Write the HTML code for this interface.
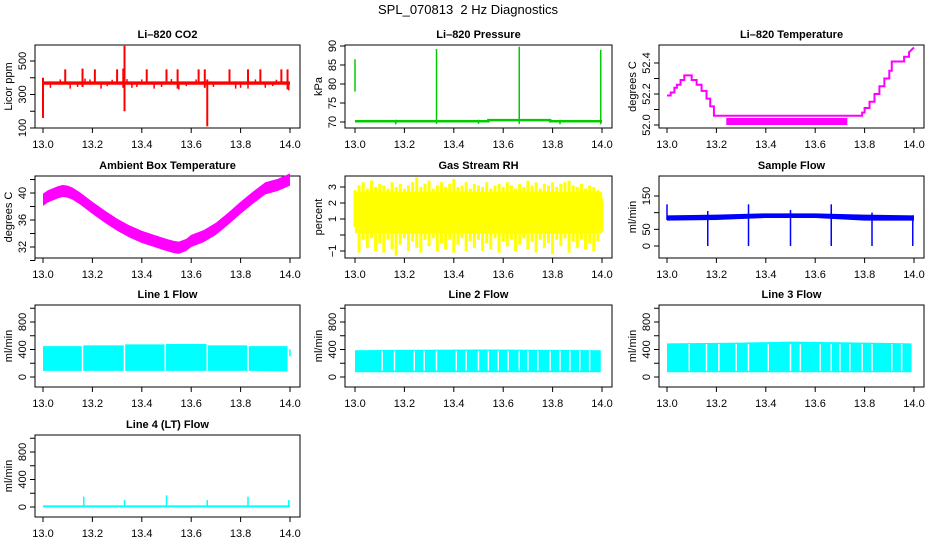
<!DOCTYPE html>
<html><head><meta charset="utf-8"><style>
body{margin:0;background:#fff}
svg{display:block;font-family:"Liberation Sans",sans-serif}
</style></head><body>
<svg id="c" width="936" height="540" viewBox="0 0 936 540">
<text x="468" y="14" text-anchor="middle" font-size="13">SPL_070813&#160; 2 Hz Diagnostics</text>
</svg>
<script>
// ---- data ----
const xTicks = [13.0,13.2,13.4,13.6,13.8,14.0];
const xTickLabels = ["13.0","13.2","13.4","13.6","13.8","14.0"];

const co2BandX = [13.0,14.0];
const co2BandLo = [358,358];
const co2BandHi = [378,378];
const co2SpikeX = [13.0,13.09,13.16,13.21,13.30,13.325,13.33,13.42,13.50,13.545,13.63,13.655,13.665,13.755,13.83,13.88,13.965,13.99];
const co2SpikeLo = [160,365,345,365,365,340,200,365,365,335,365,340,110,365,365,365,365,330];
const co2SpikeHi = [400,450,455,450,450,455,590,450,450,450,450,450,390,450,450,450,450,450];
const co2DipX = [13.03,13.11,13.14,13.235,13.26,13.36,13.38,13.45,13.48,13.55,13.58,13.69,13.78,13.8,13.83,13.9,13.93,13.995];
const co2DipV = [340,335,345,335,350,340,345,335,345,330,350,345,335,340,335,340,350,325];
const co2BumpX = [13.07,13.17,13.19,13.28,13.34,13.4,13.52,13.62,13.86,13.945];
const co2BumpV = [390,395,390,388,392,390,392,390,390,388];

const presBaseX = [13.0,13.54,13.54,13.79,13.79,14.0];
const presBaseV = [70.2,70.2,70.5,70.5,70.2,70.2];
const presSpikeX = [13.0,13.33,13.665,13.995];
const presSpikeLo = [78,69.5,69.5,69.4];
const presSpikeHi = [86.5,89.2,89.8,89.0];
const presDipX = [13.165,13.5,13.83];
const presDipLo = [69.4,69.5,69.4];
const presDipHi = [70.6,70.6,70.6];

const tempX = [13.0,13.015,13.015,13.03,13.03,13.04,13.04,13.055,13.055,13.07,13.07,13.1,13.1,13.12,13.12,13.14,13.14,13.16,13.16,13.175,13.175,13.19,13.19,13.24,13.79,13.79,13.80,13.80,13.82,13.82,13.84,13.84,13.86,13.86,13.88,13.88,13.90,13.90,13.91,13.91,13.96,13.96,13.98,13.98,14.0];
const tempV = [52.19,52.19,52.21,52.21,52.24,52.24,52.26,52.26,52.29,52.29,52.32,52.32,52.29,52.29,52.26,52.26,52.22,52.22,52.17,52.17,52.12,52.12,52.06,52.06,52.06,52.08,52.08,52.11,52.11,52.15,52.15,52.20,52.20,52.25,52.25,52.30,52.30,52.35,52.35,52.41,52.41,52.44,52.44,52.47,52.50];
const tempBandX = [13.24,13.73];
const tempBandLo = [52.0,52.0];
const tempBandHi = [52.045,52.045];

const ambX = [13.0,13.02,13.04,13.06,13.08,13.1,13.12,13.15,13.2,13.25,13.3,13.35,13.4,13.45,13.5,13.53,13.55,13.58,13.6,13.65,13.7,13.75,13.8,13.85,13.9,13.95,14.0];
const ambV = [39.0,39.5,39.8,40.1,40.3,40.2,39.9,39.2,37.8,36.5,35.3,34.3,33.5,32.9,32.3,32.0,31.9,32.3,32.9,33.6,34.7,36.2,37.8,39.3,40.7,41.2,42.0];
const ambHalf = 0.9;

const rhHi = [2.8,3.1,3.3,2.9,3.4,3.0,3.2,3.1,2.9,3.3,3.0,3.2,2.9,3.1,3.3,3.6,3.0,3.2,3.4,2.9,3.1,3.3,3.0,3.2,3.5,3.0,3.1,3.3,2.9,3.2,3.1,3.0,3.3,2.9,3.1,3.2,3.0,3.3,3.1,2.9,3.2,3.0,3.4,3.1,3.3,2.9,3.2,3.1,3.3,3.0,3.2,3.3,3.4,3.1,3.0,3.2,2.9,3.1,3.0,2.8,2.3];
const rhLo = [0.5,-1.1,-0.3,-0.8,-0.2,-1.0,-0.5,-1.1,-0.3,-0.9,-1.3,-0.6,-0.2,-1.0,-0.4,-0.8,-1.1,-0.3,-0.7,-0.2,-1.0,-0.5,-0.9,-0.3,-1.1,-0.6,-0.2,-1.0,-0.4,-0.8,-0.3,-1.0,-0.5,-0.9,-0.2,-1.1,-0.4,-0.7,-0.3,-1.0,-0.6,-0.2,-0.9,-0.4,-1.1,-0.3,-0.8,-0.5,-1.2,-0.3,-0.7,-0.2,-1.1,-0.4,-0.8,-0.3,-0.9,-0.5,-1.0,-0.4,0.2];
const rhCoreLo = 0.1, rhCoreHi = 2.7;

const sfX = [13.0,13.2,13.4,13.6,13.8,14.0];
const sfLo = [76,78,84,84,76,76];
const sfHi = [92,94,98,98,94,92];
const sfSpikeX = [13.0,13.165,13.33,13.5,13.665,13.83,13.995];
const sfSpikeLo = [78,0,0,0,0,0,0];
const sfSpikeHi = [125,105,125,108,125,100,92];

const l1X = [13.0,13.16,13.16,13.33,13.33,13.495,13.495,13.665,13.665,13.83,13.83,13.99];
const l1Hi = [450,450,460,460,475,475,480,480,460,460,450,450];
const l1Lo = [90,90,90,90,90,90,90,90,90,90,90,80];
const l1Gaps = [13.16,13.33,13.495,13.665,13.83];

const l2X = [13.0,13.5,13.995];
const l2Hi = [390,400,390];
const l2Lo = [70,70,70];
const l2Gaps = [13.11,13.16,13.24,13.28,13.33,13.41,13.45,13.5,13.54,13.58,13.62,13.665,13.7,13.74,13.79,13.83,13.87,13.91,13.95];

const l3X = [13.0,13.3,13.5,13.7,13.99];
const l3Hi = [490,500,515,505,490];
const l3Lo = [70,70,70,70,70];
const l3Gaps = [13.09,13.16,13.21,13.28,13.33,13.41,13.5,13.54,13.62,13.665,13.7,13.74,13.79,13.83,13.91,13.95];

const l4Base = 10;
const l4SpikeX = [13.165,13.33,13.5,13.665,13.83,13.995];
const l4SpikeHi = [150,100,170,100,150,100];

// ---- layout ----
const colL=[35,345,659], colR=[300,612,924], x13=[43,355,667], x14=[290,602,914];
const rowT=[45,176,305,435], rowB=[128,258,387,517];
const NS="http://www.w3.org/2000/svg";
const svg=document.getElementById('c');
function mk(tag,at,parent){const e=document.createElementNS(NS,tag);for(const k in at)e.setAttribute(k,at[k]);(parent||svg).appendChild(e);return e;}

function panel(col,row,name,title,ylab,yref,yticks,ylabels){
  const g=mk('g',{});
  
  
  const X=v=>x13[col]+(v-13)*(x14[col]-x13[col]);
  const Y=v=>yref[1]+(v-yref[0])*(yref[3]-yref[1])/(yref[2]-yref[0]);
  const L=colL[col],R=colR[col],T=rowT[row],B=rowB[row];
  const box=mk('rect',{x:L,y:T,width:R-L,height:B-T,fill:'none',stroke:'#000','stroke-width':1},g);
  
  
  const t=mk('text',{x:(L+R)/2,y:T-7,'text-anchor':'middle','font-size':11,'font-weight':'bold'},g);t.textContent=title;
  
  
  const xa=mk('g',{},g);
  
  
  mk('line',{x1:X(xTicks[0]),x2:X(xTicks[xTicks.length-1]),y1:B,y2:B,stroke:'#000'},xa);
  xTicks.forEach((v,i)=>{mk('line',{x1:X(v),x2:X(v),y1:B,y2:B+5,stroke:'#000'},xa);
    const tl=mk('text',{x:X(v),y:B+20,'text-anchor':'middle','font-size':11},xa);tl.textContent=xTickLabels[i];});
  const ya=mk('g',{},g);
  
  
  mk('line',{x1:L,x2:L,y1:Y(yticks[0]),y2:Y(yticks[yticks.length-1]),stroke:'#000'},ya);
  yticks.forEach((v,i)=>{mk('line',{x1:L-5,x2:L,y1:Y(v),y2:Y(v),stroke:'#000'},ya);
    if(ylabels[i]!==''){const tl=mk('text',{x:0,y:0,'text-anchor':'middle','font-size':11,transform:`translate(${L-9},${Y(v)}) rotate(-90)`},ya);tl.textContent=ylabels[i];}});
  const yl=mk('text',{x:0,y:0,'text-anchor':'middle','font-size':11,transform:`translate(${L-23},${(T+B)/2}) rotate(-90)`},g);yl.textContent=ylab;
  
  
  const d=mk('g',{},g);
  
  
  return {X,Y,d};
}
function vl(p,x,a,b,c,w){mk('line',{x1:p.X(x),x2:p.X(x),y1:p.Y(a),y2:p.Y(b),stroke:c,'stroke-width':w||1},p.d);}
function band(p,xs,lo,hi,c){let pts=xs.map((x,i)=>p.X(x)+','+p.Y(hi[i]));for(let i=xs.length-1;i>=0;i--)pts.push(p.X(xs[i])+','+p.Y(lo[i]));mk('polygon',{points:pts.join(' '),fill:c},p.d);}
function line(p,xs,vs,c,w){mk('polyline',{points:xs.map((x,i)=>p.X(x)+','+p.Y(vs[i])).join(' '),fill:'none',stroke:c,'stroke-width':w},p.d);}

// CO2
let p=panel(0,0,'co2','Li\u2013820 CO2','Licor ppm',[100,128,500,61],[100,200,300,400,500],['100','','300','','500']);
band(p,co2BandX,co2BandLo,co2BandHi,'#f00');
co2SpikeX.forEach((x,i)=>vl(p,x,co2SpikeLo[i],co2SpikeHi[i],'#f00',2));
co2DipX.forEach((x,i)=>vl(p,x,co2DipV[i],365,'#f00',1.5));
co2BumpX.forEach((x,i)=>vl(p,x,co2BumpV[i],370,'#f00',1.5));
// Pressure
p=panel(1,0,'pressure','Li\u2013820 Pressure','kPa',[70,122,90,46],[70,75,80,85,90],['70','75','80','85','90']);
line(p,presBaseX,presBaseV,'#0c0',2.5);
presSpikeX.forEach((x,i)=>vl(p,x,presSpikeLo[i],presSpikeHi[i],'#0c0',1.5));
presDipX.forEach((x,i)=>vl(p,x,presDipLo[i],presDipHi[i],'#0c0',1.5));
// Temperature
p=panel(2,0,'li820-temperature','Li\u2013820 Temperature','degrees C',[52.0,125,52.4,63],[52.0,52.1,52.2,52.3,52.4],['52.0','','52.2','','52.4']);
line(p,tempX,tempV,'#f0f',2);
band(p,tempBandX,tempBandLo,tempBandHi,'#f0f');
// Ambient
p=panel(0,1,'ambient-temperature','Ambient Box Temperature','degrees C',[32,247,40,193],[30,32,34,36,38,40,42],['','32','','36','','40','']);
band(p,ambX,ambV.map(v=>v-ambHalf),ambV.map(v=>v+ambHalf),'#f0f');
// RH
p=panel(1,1,'gas-stream-rh','Gas Stream RH','percent',[-1,251,3,187],[-1,0,1,2,3],['\u22121','','1','2','3']);
rhHi.forEach((h,i)=>vl(p,13+i/(rhHi.length-1),rhLo[i],h,'#ff0',3));
band(p,[13.0,14.0],[rhCoreLo,rhCoreLo],[rhCoreHi,rhCoreHi],'#ff0');
// Sample flow
p=panel(2,1,'sample-flow','Sample Flow','ml/min',[0,246,150,196],[0,50,100,150],['0','50','','150']);
band(p,sfX,sfLo,sfHi,'#00f');
sfSpikeX.forEach((x,i)=>vl(p,x,sfSpikeLo[i],sfSpikeHi[i],'#00f',1.5));
// Line flows
const lt=[0,200,400,600,800,1000], ll=['0','','400','','800',''];
p=panel(0,2,'line1-flow','Line 1 Flow','ml/min',[0,377,800,322],lt,ll);
band(p,l1X,l1Lo,l1Hi,'#0ff');
l1Gaps.forEach(x=>vl(p,x,60,520,'#fff',1.5));
vl(p,14.0,300,400,'#0ff',1.5);
p=panel(1,2,'line2-flow','Line 2 Flow','ml/min',[0,377,800,322],lt,ll);
band(p,l2X,l2Lo,l2Hi,'#0ff');
l2Gaps.forEach(x=>vl(p,x,95,380,'#fff',1.5));
p=panel(2,2,'line3-flow','Line 3 Flow','ml/min',[0,377,800,322],lt,ll);
band(p,l3X,l3Lo,l3Hi,'#0ff');
l3Gaps.forEach(x=>vl(p,x,90,480,'#fff',1.5));
p=panel(0,3,'line4-flow','Line 4 (LT) Flow','ml/min',[0,507,800,452],lt,ll);
line(p,[13.0,14.0],[l4Base,l4Base],'#0ff',2);
l4SpikeX.forEach((x,i)=>vl(p,x,l4Base,l4SpikeHi[i],'#0ff',1.5));
</script>
</body></html>
